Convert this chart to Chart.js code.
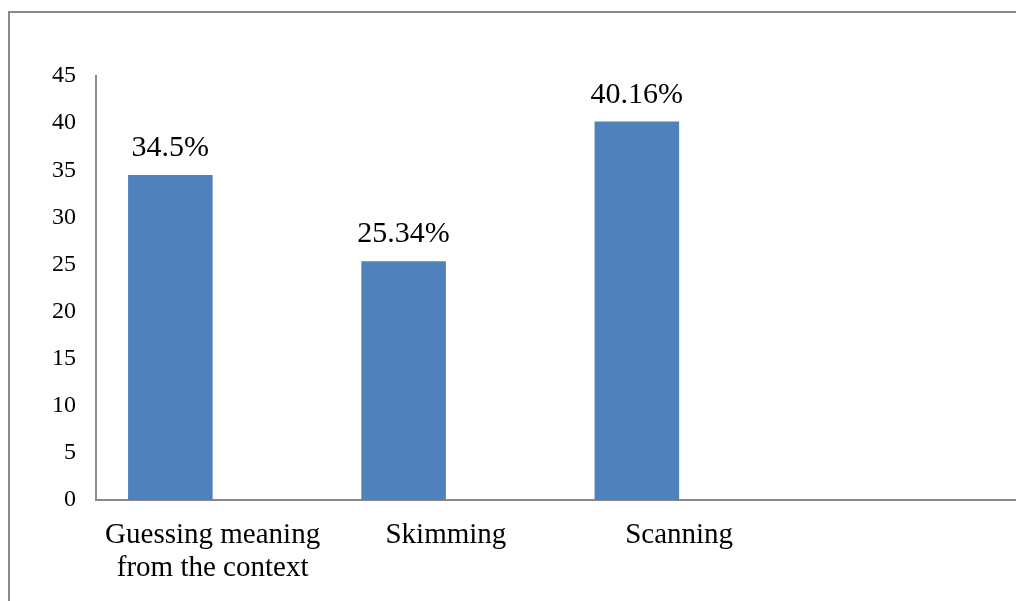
<!DOCTYPE html>
<html>
<head>
<meta charset="utf-8">
<script src="https://cdn.jsdelivr.net/npm/chart.js@4/dist/chart.umd.min.js"></script>
<style>
    html, body { margin: 0; padding: 0; background: #ffffff; overflow: hidden; }
    #wrap { position: absolute; left: 0; top: 0; width: 1050px; height: 620px; }
</style>
</head>
<body>
<div id="wrap"><canvas id="myChart" width="1050" height="620"></canvas></div>
<script>
// Chart data
const categories = [['Guessing meaning', 'from the context'], 'Skimming', 'Scanning', ''];
const strategyValues = [34.5, 25.34, 40.16, null];
const emptySeries = [null, null, null, null];
const yTicks = [0, 5, 10, 15, 20, 25, 30, 35, 40, 45];

const serif = "'Liberation Serif', 'Times New Roman', serif";

// Gray frame around the figure
const framePlugin = {
    id: 'frame',
    beforeDraw(chart) {
        const ctx = chart.ctx;
        ctx.save();
        ctx.strokeStyle = '#8a8a8a';
        ctx.lineWidth = 2;
        ctx.strokeRect(9, 12, 2000, 2000);
        ctx.restore();
    }
};

// Percent labels above the bars
const valueLabels = {
    id: 'valueLabels',
    afterDatasetsDraw(chart) {
        const ctx = chart.ctx;
        const meta = chart.getDatasetMeta(0);
        ctx.save();
        ctx.font = '30px ' + serif;
        ctx.fillStyle = '#000000';
        ctx.textAlign = 'center';
        ctx.textBaseline = 'alphabetic';
        meta.data.forEach((bar, i) => {
            const v = strategyValues[i];
            if (v === null) return;
            ctx.fillText(v + '%', bar.x, bar.y - 19);
        });
        ctx.restore();
    }
};

const ctx = document.getElementById('myChart').getContext('2d');
new Chart(ctx, {
    type: 'bar',
    data: {
        labels: categories,
        datasets: [{
            label: 'Strategies',
            data: strategyValues,
            backgroundColor: '#4F81BD',
            borderWidth: 0,
            categoryPercentage: 0.725,
            barPercentage: 1.0
        }, {
            label: 'Empty',
            data: emptySeries,
            backgroundColor: '#C0504D',
            categoryPercentage: 0.725,
            barPercentage: 1.0
        }]
    },
    options: {
        responsive: false,
        animation: false,
        layout: { padding: { top: 76, right: 21, left: 0, bottom: 0 } },
        scales: {
            x: {
                grid: { display: false, drawTicks: false },
                border: { display: true, color: '#8a8a8a', width: 2 },
                ticks: {
                    color: '#000000',
                    padding: 19,
                    maxRotation: 0,
                    autoSkip: false,
                    font: { family: serif, size: 29, lineHeight: 1.14 }
                },
                afterFit(scale) { scale.height = 120; }
            },
            y: {
                min: 0,
                max: 45,
                afterBuildTicks(scale) { scale.ticks = yTicks.map(v => ({ value: v })); },
                grid: { display: false, drawTicks: false },
                border: { display: true, color: '#8a8a8a', width: 2 },
                ticks: {
                    color: '#000000',
                    padding: 20,
                    font: { family: serif, size: 24 }
                },
                afterFit(scale) { scale.width = 96; }
            }
        },
        plugins: {
            legend: { display: false },
            tooltip: { enabled: false }
        }
    },
    plugins: [framePlugin, valueLabels]
});
</script>
</body>
</html>
